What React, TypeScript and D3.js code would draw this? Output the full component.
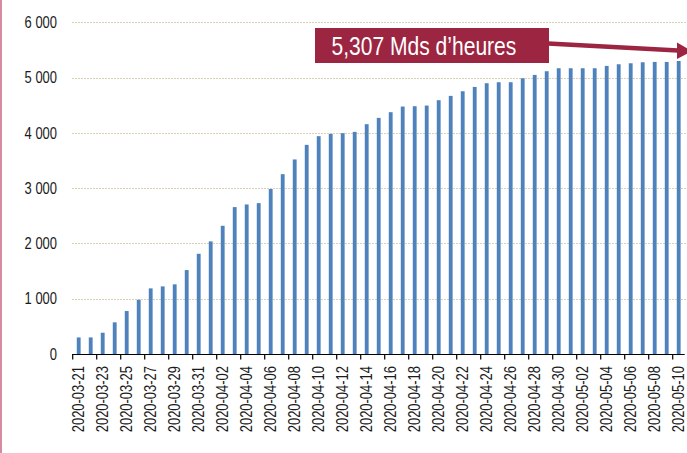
import React, { useEffect, useRef } from "react";
import * as d3 from "d3";

// daily dates, 2020-03-21 .. 2020-05-10
const dates = [
  "2020-03-21", "2020-03-22", "2020-03-23", "2020-03-24", "2020-03-25",
  "2020-03-26", "2020-03-27", "2020-03-28", "2020-03-29", "2020-03-30",
  "2020-03-31", "2020-04-01", "2020-04-02", "2020-04-03", "2020-04-04",
  "2020-04-05", "2020-04-06", "2020-04-07", "2020-04-08", "2020-04-09",
  "2020-04-10", "2020-04-11", "2020-04-12", "2020-04-13", "2020-04-14",
  "2020-04-15", "2020-04-16", "2020-04-17", "2020-04-18", "2020-04-19",
  "2020-04-20", "2020-04-21", "2020-04-22", "2020-04-23", "2020-04-24",
  "2020-04-25", "2020-04-26", "2020-04-27", "2020-04-28", "2020-04-29",
  "2020-04-30", "2020-05-01", "2020-05-02", "2020-05-03", "2020-05-04",
  "2020-05-05", "2020-05-06", "2020-05-07", "2020-05-08", "2020-05-09",
  "2020-05-10",
];

const hours = [
  300, 300, 385, 573, 777, 981, 1187, 1223, 1260, 1518,
  1813, 2037, 2319, 2657, 2705, 2729, 2985, 3253, 3519, 3783,
  3940, 3982, 3994, 4018, 4157, 4271, 4374, 4476, 4482, 4494,
  4591, 4669, 4753, 4831, 4898, 4916, 4916, 4988, 5048, 5115,
  5169, 5169, 5169, 5169, 5211, 5241, 5259, 5277, 5283, 5283,
  5300,
];

const yTicks = [0, 1000, 2000, 3000, 4000, 5000, 6000];
const annotation = "5,307 Mds d\u2019heures";

const W = 687;
const H = 453;
const FONT = "'Liberation Sans', Arial, sans-serif";
const SQUEEZE = 0.81;
const RED = "#9c2541";

export default function App() {
  const svgRef = useRef<SVGSVGElement>(null);

  useEffect(() => {
    const svg = d3.select(svgRef.current);
    svg.selectAll("*").remove();

    const x = d3
      .scaleBand<string>()
      .domain(dates)
      .range([72.7, 684.7])
      .paddingInner(0.68)
      .paddingOuter(0.34);
    const y = d3.scaleLinear().domain([0, 6000]).range([354, 22.3]);
    const step = x.step();

    // left border
    svg.append("rect").attr("x", 0).attr("y", 0).attr("width", 2).attr("height", H).attr("fill", "#d68ba0");

    // gridlines
    svg
      .selectAll(".grid")
      .data(yTicks.filter((d) => d > 0))
      .enter()
      .append("line")
      .attr("x1", 72)
      .attr("x2", 686)
      .attr("y1", (d) => Math.round(y(d)) + 0.5)
      .attr("y2", (d) => Math.round(y(d)) + 0.5)
      .attr("stroke", "#d9d3b4")
      .attr("stroke-width", 1)
      .attr("stroke-dasharray", "2,1");

    // y labels
    svg
      .selectAll(".ylab")
      .data(yTicks)
      .enter()
      .append("text")
      .attr("transform", (d) => `translate(57,${y(d)}) scale(${SQUEEZE},1)`)
      .attr("dy", "0.36em")
      .attr("text-anchor", "end")
      .attr("font-family", FONT)
      .attr("font-size", 16)
      .attr("fill", "#1a1a1a")
      .text((d) => (d === 0 ? "0" : d3.format(",")(d).replace(",", " ")));

    // bars
    svg
      .selectAll(".bar")
      .data(dates)
      .enter()
      .append("rect")
      .attr("x", (d) => x(d)!)
      .attr("y", (d, i) => y(hours[i]))
      .attr("width", x.bandwidth())
      .attr("height", (d, i) => y(0) - y(hours[i]))
      .attr("fill", "#4f81bd");

    // x axis line + ticks every 2 categories
    svg
      .append("line")
      .attr("x1", 72)
      .attr("x2", 684.7)
      .attr("y1", 354.5)
      .attr("y2", 354.5)
      .attr("stroke", "#000")
      .attr("stroke-width", 1.2);

    const labelled = dates.filter((d, i) => i % 2 === 0);
    svg
      .selectAll(".tick")
      .data(labelled)
      .enter()
      .append("line")
      .attr("x1", (d) => x(d)! + x.bandwidth() / 2 - step / 2)
      .attr("x2", (d) => x(d)! + x.bandwidth() / 2 - step / 2)
      .attr("y1", 354)
      .attr("y2", 359.5)
      .attr("stroke", "#000")
      .attr("stroke-width", 1.2);

    svg
      .selectAll(".xlab")
      .data(labelled)
      .enter()
      .append("text")
      .attr(
        "transform",
        (d) => `translate(${x(d)! + x.bandwidth() / 2},366) rotate(-90) scale(${SQUEEZE},1)`
      )
      .attr("dy", "0.36em")
      .attr("text-anchor", "end")
      .attr("font-family", FONT)
      .attr("font-size", 16)
      .attr("fill", "#1a1a1a")
      .text((d) => d);

    // annotation box + arrow
    svg.append("rect").attr("x", 315).attr("y", 28).attr("width", 234).attr("height", 35).attr("fill", RED);
    svg
      .append("text")
      .attr("transform", `translate(331.5,55) scale(${SQUEEZE},1)`)
      .attr("font-family", FONT)
      .attr("font-size", 26)
      .attr("fill", "#fff")
      .text(annotation);

    svg
      .append("line")
      .attr("x1", 548)
      .attr("y1", 43.5)
      .attr("x2", 678)
      .attr("y2", 50.5)
      .attr("stroke", RED)
      .attr("stroke-width", 4.5);
    svg
      .append("path")
      .attr("d", "M677,42.5 L692,51.3 L677,59 Z")
      .attr("fill", RED);
  }, []);

  return (
    <svg
      ref={svgRef}
      width={W}
      height={H}
      style={{ position: "absolute", left: 0, top: 0, background: "#fff" }}
    ></svg>
  );
}
